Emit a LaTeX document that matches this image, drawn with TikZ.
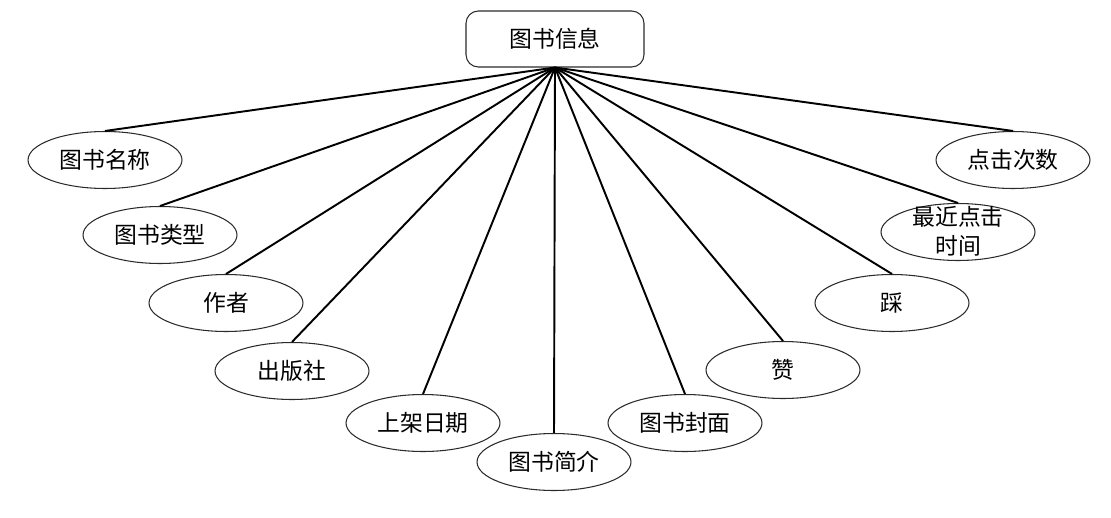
\documentclass[tikz,border=0pt]{standalone}
\usepackage{fontspec}
\usetikzlibrary{shapes.geometric}
\newfontfamily\cjk{Noto Sans CJK SC}
\definecolor{EdgeBlack}{HTML}{000000}
\definecolor{OutlineGray}{HTML}{2B2B2B}
\begin{document}
\begin{tikzpicture}[
    x=0.02cm, y=-0.02cm,
    font=\cjk\fontsize{13}{16.5}\selectfont,
    attr/.style={
      ellipse,
      draw=OutlineGray,
      line width=0.6pt,
      inner sep=0pt,
      minimum width=3.08cm,
      minimum height=1.14cm
    },
    link/.style={draw=EdgeBlack, line width=1.1pt}
  ]
  \useasboundingbox (0,0) rectangle (1111,517);
  % entity
  \node[
    rounded corners=7pt,
    draw=OutlineGray,
    line width=0.6pt,
    minimum width=3.56cm,
    minimum height=1.12cm
  ] (info) at (555,39) {图书信息};
  % attributes, left to right
  \node[attr] (name)   at (105,160) {图书名称};
  \node[attr] (kind)   at (160,235) {图书类型};
  \node[attr] (author) at (226,303) {作者};
  \node[attr] (press)  at (292,371) {出版社};
  \node[attr] (date)   at (423,423) {上架日期};
  \node[attr] (intro)  at (554,462) {图书简介};
  \node[attr] (cover)  at (685,423) {图书封面};
  \node[attr] (like)   at (783,370) {赞};
  \node[attr] (dislike) at (892,303) {踩};
  \node[attr] (recent) at (958,232)
    {\smash{\raisebox{-4.5pt}{\begin{tabular}[c]{@{}c@{}}最近点击\\时间\end{tabular}}}};
  \node[attr] (clicks) at (1013,160) {点击次数};
  \foreach \n in {name,kind,author,press,date,intro,cover,like,dislike,recent,clicks}
    \draw[link] (info.south) -- (\n.north);
\end{tikzpicture}
\end{document}
